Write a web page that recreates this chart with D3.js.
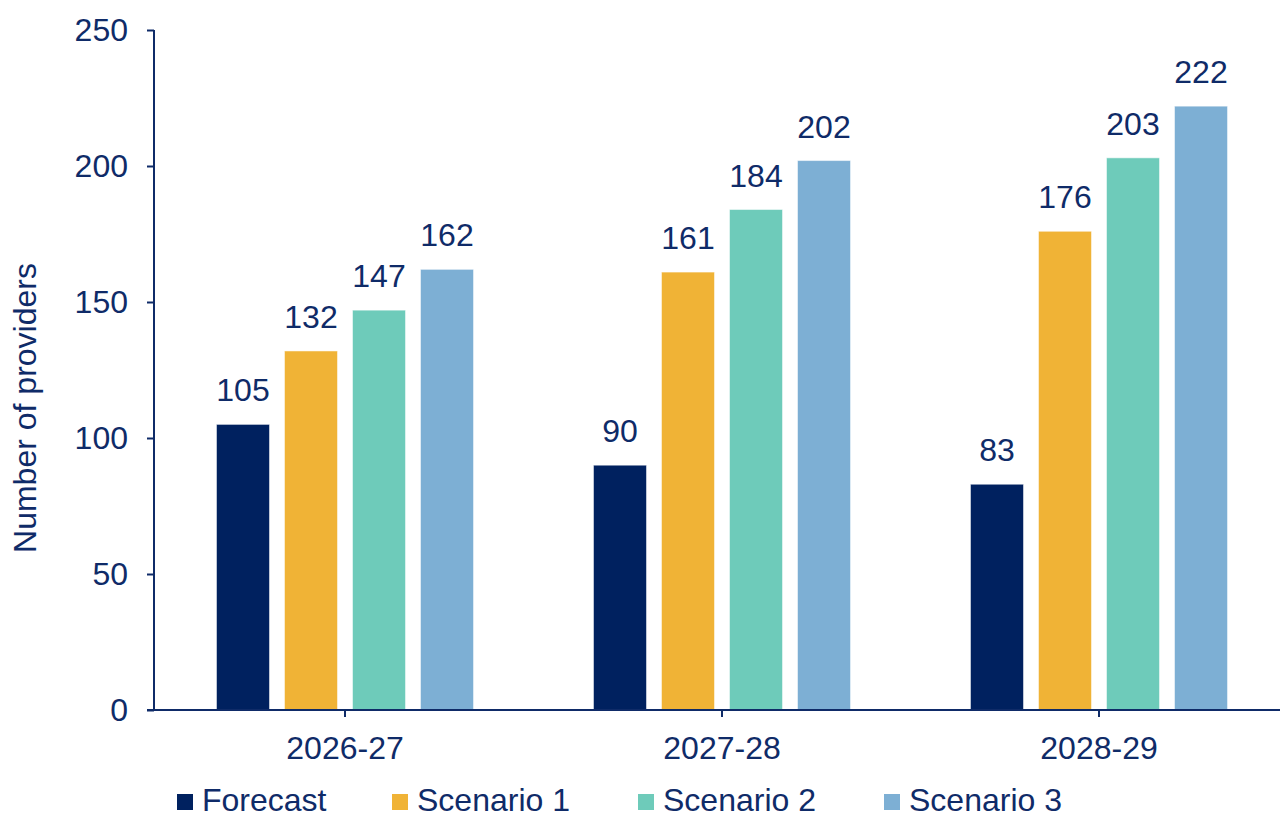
<!DOCTYPE html>
<html>
<head>
<meta charset="utf-8">
<script src="https://cdn.jsdelivr.net/npm/d3@7"></script>
<style>
  html, body { margin: 0; padding: 0; background: #fff; }
  svg { display: block; }
  text { font-family: "Liberation Sans", Arial, sans-serif; fill: #0F2B68; }
</style>
</head>
<body>
<svg id="chart" width="1280" height="818"></svg>
<script>
// Chart data
const categories = ["2026-27", "2027-28", "2028-29"];
const seriesNames = ["Forecast", "Scenario 1", "Scenario 2", "Scenario 3"];
const forecast = [105, 90, 83];
const scenario1 = [132, 161, 176];
const scenario2 = [147, 184, 203];
const scenario3 = [162, 202, 222];
const yTicks = [0, 50, 100, 150, 200, 250];
const yTitle = "Number of providers";

const seriesValues = [forecast, scenario1, scenario2, scenario3];
const colors = ["#00215F", "#F0B336", "#6ECBBA", "#7DAFD4"];
const ink = "#0F2B68";
const fontSize = 32;

const svg = d3.select("#chart");
const plotLeft = 154, plotTop = 30, plotBottom = 710;

const y = d3.scaleLinear().domain([0, 250]).range([plotBottom, plotTop]);
const x0 = d3.scaleBand().domain(categories).range([156.5, 1287.5]).padding(0);
const x1 = d3.scaleBand().domain(seriesNames).range([0, x0.bandwidth()])
  .paddingInner(0.2206).paddingOuter(0.882);

// Bars and value labels, one group per category
const groups = svg.append("g").selectAll("g")
  .data(categories)
  .join("g")
  .attr("transform", d => `translate(${x0(d)},0)`);

const rows = ci => seriesNames.map((s, si) => ({ s, si, v: seriesValues[si][ci] }));

groups.each(function (c, ci) {
  const g = d3.select(this);
  const data = rows(ci);
  g.selectAll("rect").data(data).join("rect")
    .attr("x", d => x1(d.s))
    .attr("y", d => y(d.v))
    .attr("width", x1.bandwidth())
    .attr("height", d => y(0) - y(d.v))
    .attr("fill", d => colors[d.si])
    .attr("stroke", "#ffffff")
    .attr("stroke-opacity", 0.5)
    .attr("stroke-width", 1);
  g.selectAll("text.val").data(data).join("text")
    .attr("class", "val")
    .attr("x", d => x1(d.s) + x1.bandwidth() / 2)
    .attr("y", d => y(d.v) - 23)
    .attr("text-anchor", "middle")
    .attr("font-size", fontSize)
    .text(d => d.v);
});

// Y axis
const yAxis = svg.append("g")
  .attr("transform", `translate(${plotLeft},0)`)
  .call(d3.axisLeft(y).tickValues(yTicks).tickSize(7).tickPadding(19));
yAxis.select(".domain").attr("stroke", ink).attr("stroke-width", 2)
  .attr("d", `M0,${plotTop}V${plotBottom}`);
yAxis.selectAll(".tick line").attr("stroke", ink).attr("stroke-width", 2);
yAxis.selectAll(".tick text")
  .attr("font-size", fontSize)
  .attr("font-family", "Liberation Sans, Arial, sans-serif")
  .attr("fill", ink)
  .attr("dy", "0.34em");

// X axis
const xAxis = svg.append("g")
  .attr("transform", `translate(0,${plotBottom})`)
  .call(d3.axisBottom(x0).tickSize(7).tickPadding(20));
xAxis.select(".domain").attr("stroke", ink).attr("stroke-width", 2)
  .attr("d", `M${plotLeft - 7},0H1280`);
xAxis.selectAll(".tick line").attr("stroke", ink).attr("stroke-width", 2);
xAxis.selectAll(".tick text")
  .attr("font-size", fontSize)
  .attr("font-family", "Liberation Sans, Arial, sans-serif")
  .attr("fill", ink)
  .attr("dy", "0.68em");

// Y axis title
svg.append("text")
  .attr("transform", `translate(36,408) rotate(-90)`)
  .attr("text-anchor", "middle")
  .attr("font-size", fontSize)
  .text(yTitle);

// Legend along the bottom edge
const legendX = [177, 392, 638, 884];
const legend = svg.append("g").selectAll("g")
  .data(seriesNames)
  .join("g")
  .attr("transform", (d, i) => `translate(${legendX[i]},794)`);
legend.append("rect")
  .attr("width", 16).attr("height", 16)
  .attr("fill", (d, i) => colors[i]);
legend.append("text")
  .attr("x", 25).attr("y", 17)
  .attr("font-size", fontSize)
  .text(d => d);
</script>
</body>
</html>
